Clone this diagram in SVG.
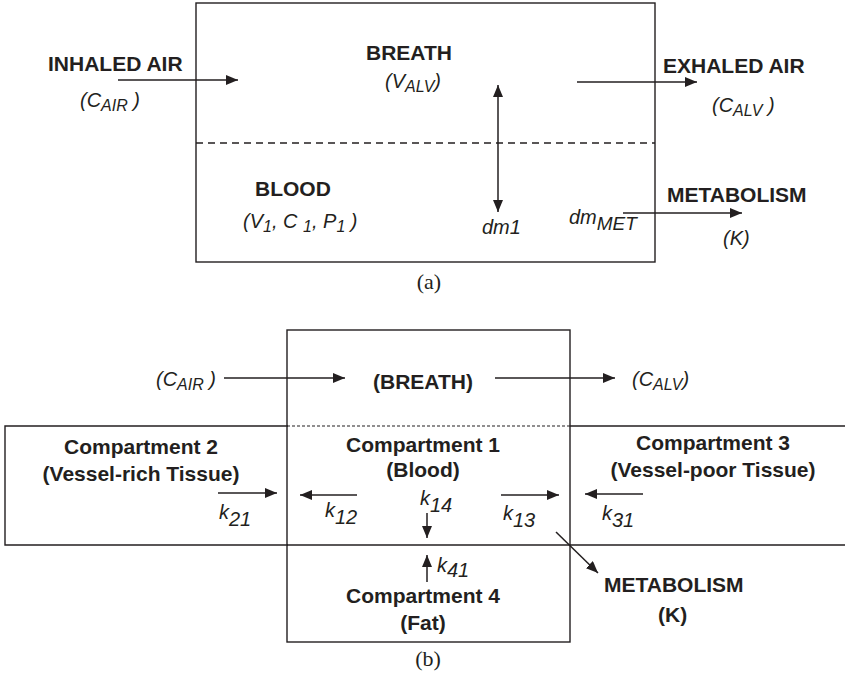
<svg xmlns="http://www.w3.org/2000/svg" width="845" height="673" viewBox="0 0 845 673">
  <defs>
    <marker id="arrow" viewBox="0 0 12 10" refX="12" refY="5" markerWidth="12" markerHeight="10" markerUnits="userSpaceOnUse" orient="auto">
      <path d="M0,0 L12,5 L0,10 z" fill="#231f20"/>
    </marker>
    <style>
      .box { fill: none; stroke: #231f20; stroke-width: 1.4; }
      .edge { fill: none; stroke: #231f20; stroke-width: 1.4; }
      .conn { fill: none; stroke: #231f20; stroke-width: 1.5; marker-end: url(#arrow); }
      .dash { fill: none; stroke: #231f20; stroke-width: 1.5; stroke-dasharray: 7 5; }
      .dot { fill: none; stroke: #231f20; stroke-width: 1.2; stroke-dasharray: 3 2; }
      .lbl { font-family: "Liberation Sans", Arial, sans-serif; font-weight: bold; font-size: 21px; fill: #231f20; }
      .it { font-family: "Liberation Sans", Arial, sans-serif; font-style: italic; font-size: 20px; fill: #231f20; }
      .sub { font-size: 16px; }
      .k { font-family: "Liberation Sans", Arial, sans-serif; font-style: italic; font-size: 20px; fill: #231f20; }
      .cap { font-family: "Liberation Serif", "Times New Roman", serif; font-size: 22px; fill: #231f20; }
      .mid { text-anchor: middle; }
    </style>
  </defs>

  <!-- ===== (a) single blood compartment ===== -->
  <g id="a-box">
    <rect class="box" x="196" y="3" width="459" height="259"/>
    <line class="dash" x1="196" y1="143" x2="655" y2="143"/>
  </g>
  <g id="a-inhaled">
    <text class="lbl" x="48" y="71" font-size="22">INHALED AIR</text>
    <text class="it" x="80" y="107">(C<tspan class="sub" dy="4">AIR</tspan><tspan dy="-4"> )</tspan></text>
  </g>
  <g id="a-breath">
    <text class="lbl" x="366" y="60">BREATH</text>
    <text class="it" x="385" y="88">(V<tspan class="sub" dy="4">ALV</tspan><tspan dy="-4">)</tspan></text>
  </g>
  <g id="a-exhaled">
    <text class="lbl" x="663" y="73" font-size="22">EXHALED AIR</text>
    <text class="it" x="712" y="112">(C<tspan class="sub" dy="4">ALV</tspan><tspan dy="-4"> )</tspan></text>
  </g>
  <g id="a-blood">
    <text class="lbl" x="255" y="196">BLOOD</text>
    <text class="it" x="243" y="228">(V<tspan class="sub" dy="4">1</tspan><tspan dy="-4">, C </tspan><tspan class="sub" dy="4">1</tspan><tspan dy="-4">, P</tspan><tspan class="sub" dy="4">1</tspan><tspan dy="-4">  )</tspan></text>
  </g>
  <g id="a-metabolism">
    <text class="lbl" x="667" y="202">METABOLISM</text>
    <text class="it" x="723" y="245">(K)</text>
  </g>
  <g id="a-labels">
    <text class="it" x="482" y="234" font-size="16">dm1</text>
    <text class="it" x="569" y="224" font-size="16" font-style="normal">dm<tspan font-size="19" font-style="italic" dy="6">MET</tspan></text>
  </g>
  <g id="a-connectors">
    <line class="conn" x1="118" y1="80" x2="238" y2="80"/>
    <line class="conn" x1="577" y1="82" x2="697" y2="82"/>
    <line class="conn" x1="498" y1="150" x2="498" y2="85"/>
    <line class="conn" x1="498" y1="150" x2="498" y2="212"/>
    <line class="conn" x1="623" y1="213" x2="742" y2="213"/>
  </g>
  <text class="cap mid" x="429" y="289">(a)</text>

  <!-- ===== (b) four-compartment model ===== -->
  <g id="b-breath">
    <rect class="box" x="287" y="330" width="283" height="312"/>
    <line class="dot" x1="287" y1="426" x2="570" y2="426"/>
    <text class="lbl" x="373" y="389">(BREATH)</text>
  </g>
  <g id="b-air">
    <text class="it" x="156" y="386">(C<tspan class="sub" dy="4">AIR</tspan><tspan dy="-4"> )</tspan></text>
    <text class="it" x="632" y="386">(C<tspan class="sub" dy="4">ALV</tspan><tspan dy="-4">)</tspan></text>
  </g>
  <g id="b-compartment2">
    <path class="edge" d="M288,426 L5,426 L5,545 L288,545"/>
    <text class="lbl mid" x="141" y="454">Compartment 2</text>
    <text class="lbl mid" x="141" y="481">(Vessel-rich Tissue)</text>
  </g>
  <g id="b-compartment1">
    <line class="edge" x1="287" y1="545" x2="570" y2="545"/>
    <text class="lbl mid" x="423" y="452">Compartment 1</text>
    <text class="lbl mid" x="423" y="477">(Blood)</text>
  </g>
  <g id="b-compartment3">
    <path class="edge" d="M570,426 L845,426 M570,545 L845,545"/>
    <text class="lbl mid" x="713" y="450">Compartment 3</text>
    <text class="lbl mid" x="713" y="477">(Vessel-poor Tissue)</text>
  </g>
  <g id="b-compartment4">
    <text class="lbl mid" x="423" y="603">Compartment 4</text>
    <text class="lbl mid" x="423" y="630">(Fat)</text>
  </g>
  <g id="b-metabolism">
    <text class="lbl" x="604" y="592">METABOLISM</text>
    <text class="lbl" x="658" y="622">(K)</text>
  </g>
  <g id="b-rates">
    <text class="k" x="219" y="519">k<tspan dy="7">21</tspan></text>
    <text class="k" x="325" y="517">k<tspan dy="7">12</tspan></text>
    <text class="k" x="420" y="505">k<tspan dy="7">14</tspan></text>
    <text class="k" x="503" y="520">k<tspan dy="7">13</tspan></text>
    <text class="k" x="602" y="520">k<tspan dy="7">31</tspan></text>
    <text class="k" x="437" y="572">k<tspan dy="5">41</tspan></text>
  </g>
  <g id="b-connectors">
    <line class="conn" x1="224" y1="378" x2="345" y2="378"/>
    <line class="conn" x1="495" y1="378" x2="615" y2="378"/>
    <line class="conn" x1="218" y1="493" x2="277" y2="493"/>
    <line class="conn" x1="357" y1="495" x2="300" y2="495"/>
    <line class="conn" x1="501" y1="495" x2="559" y2="495"/>
    <line class="conn" x1="643" y1="494" x2="585" y2="494"/>
    <line class="conn" x1="427" y1="513" x2="427" y2="538"/>
    <line class="conn" x1="427" y1="582" x2="427" y2="555"/>
    <line class="conn" x1="556" y1="532" x2="598" y2="573"/>
  </g>
  <text class="cap mid" x="428" y="666">(b)</text>
</svg>
